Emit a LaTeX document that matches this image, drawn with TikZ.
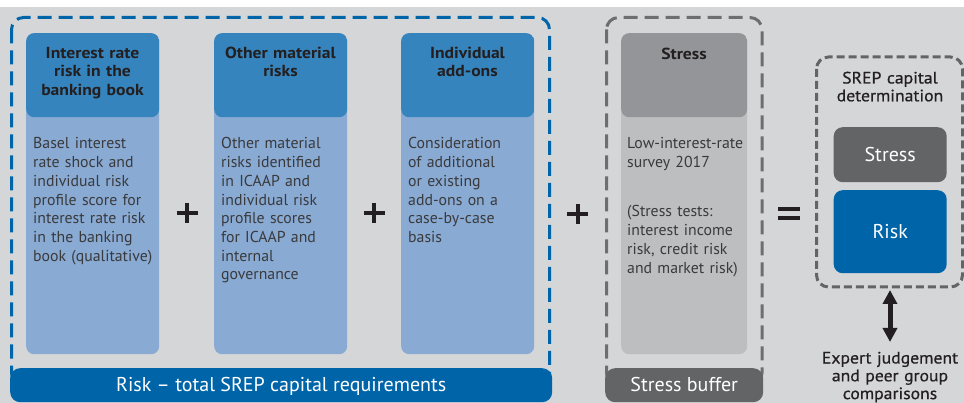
\documentclass[tikz,border=0pt]{standalone}
\usepackage{fontspec}
\setmainfont{PT Sans}
\newfontfamily\headfont{PT Sans}[FakeStretch=1.1]
\newfontfamily\notefont{PT Sans}[FakeStretch=1.07, FakeBold=0.6]
\usetikzlibrary{arrows.meta}

\definecolor{pagebg}{HTML}{D5D6D8}
\definecolor{hdrblue}{HTML}{3584BD}
\definecolor{bodyblue}{HTML}{89AAD3}
\definecolor{dkblue}{HTML}{0065A8}
\definecolor{stresshdr}{HTML}{939598}
\definecolor{stressbody}{HTML}{BDBEC0}
\definecolor{dkgray}{HTML}{636466}
\definecolor{dashgray}{HTML}{6D6E71}
\definecolor{txtdark}{HTML}{231F20}
\definecolor{txtbody}{HTML}{3A3A3C}

\tikzset{
  column/.style={rounded corners=8, inner sep=0, anchor=north west,
    minimum width=133, minimum height=321},
  headfill/.style={path picture={\fill[#1] (path picture bounding box.north west)
    rectangle ([yshift=-84pt]path picture bounding box.north east);}},
  headtext/.style={font=\headfont\bfseries\fontsize{16}{18.7}\selectfont, text=txtdark,
    align=center, text width=130, inner sep=0, anchor=base},
  bodytext/.style={font=\fontsize{15.8}{18.7}\selectfont, text=txtbody,
    align=left, text width=135, inner sep=0, anchor=base west},
  groupbox/.style={line width=3, rounded corners=12, dash pattern=on 14 off 7},
  bar/.style={rounded corners=10, inner sep=0, anchor=north west,
    minimum height=34, text=white, font=\fontsize{20}{22}\selectfont,
    text height=13.5, text depth=0},
  resbox/.style={rounded corners=9, inner sep=0, anchor=north west,
    minimum width=113, text=white, font=\fontsize{20}{22}\selectfont,
    text height=13.5, text depth=0},
  opsign/.style={line width=4, txtdark},
  note/.style={font=\notefont\fontsize{16.5}{17.8}\selectfont, text=txtdark, align=center,
    inner sep=0, anchor=base, text width=150},
}

\begin{document}
\begin{tikzpicture}[x=1pt, y=-1pt]
  \useasboundingbox (0,0) rectangle (964,403);
  \fill[white] (0,0) rectangle (964,403);
  \fill[pagebg] (0,7) rectangle (964,403);

  % grouping frames
  \draw[groupbox, dkblue] (11.5,17.5) rectangle (549.5,385);
  \draw[groupbox, dashgray] (606.5,17.5) rectangle (762,385);
  \draw[groupbox, dkgray, dash pattern=on 8 off 4] (816.5,57) rectangle (962.5,287);

  % risk and stress columns
  \node[column, fill=bodyblue, headfill=hdrblue] (c1) at (26,33) {};
  \node[column, fill=bodyblue, headfill=hdrblue] (c2) at (214,33) {};
  \node[column, fill=bodyblue, headfill=hdrblue] (c3) at (401,33) {};
  \node[column, fill=stressbody, headfill=stresshdr, minimum width=126] (c4) at (621,33) {};

  \node[headtext] (h1) at (92.5,58.3) {Interest rate\\risk in the\\banking book};
  \node[headtext] (h2) at (280.5,58.3) {Other material\\risks};
  \node[headtext] (h3) at (467.5,58.3) {Individual\\add-ons};
  \node[headtext] (h4) at (684,59.3) {Stress};

  \node[bodytext] (b1) at (33,149) {Basel interest\\rate shock and\\individual risk\\profile score for\\interest rate risk\\in the banking\\book (qualitative)};
  \node[bodytext] (b2) at (221,149) {Other material\\risks identified\\in ICAAP and\\individual risk\\profile scores\\for ICAAP and\\internal\\governance};
  \node[bodytext] (b3) at (408,149) {Consideration\\of additional\\or existing\\add-ons on a\\case-by-case\\basis};
  \node[bodytext] (b4a) at (627,149) {Low-interest-rate\\survey 2017};
  \node[bodytext] (b4b) at (627,217) {(Stress tests:\\interest income\\risk, credit risk\\and market risk)};

  % bottom bars
  \node[bar, fill=dkblue, minimum width=542] (riskbar) at (10,368) {Risk – total SREP capital requirements};
  \node[bar, fill=dkgray, minimum width=158] (stressbar) at (605,368) {Stress buffer};

  % operators
  \coordinate (p1) at (187,213);
  \coordinate (p2) at (374,213);
  \coordinate (p3) at (577.5,214);
  \foreach \p in {p1,p2,p3} {
    \draw[opsign] ([xshift=-10.5pt]\p) -- ([xshift=10.5pt]\p);
    \draw[opsign] ([yshift=10pt]\p) -- ([yshift=-10pt]\p);
  }
  \coordinate (eq) at (789,213.5);
  \draw[line width=4.5, txtdark] ([xshift=-11pt,yshift=4.5pt]eq) -- ([xshift=11pt,yshift=4.5pt]eq);
  \draw[line width=4.5, txtdark] ([xshift=-11pt,yshift=-4.5pt]eq) -- ([xshift=11pt,yshift=-4.5pt]eq);

  % SREP capital determination
  \node[note] (srep) at (890,83.5) {SREP capital\\determination};
  \node[resbox, fill=dkgray, minimum height=55] (stressbox) at (833.5,127) {Stress};
  \node[resbox, fill=dkblue, minimum height=83] (riskbox) at (833.5,190) {Risk};
  \coordinate (srepbottom) at (890,290);

  \node[note] (expert) at (890,363.5) {Expert judgement\\and peer group\\comparisons};
  \coordinate (experttop) at (890,342);
  \draw[line width=5, txtdark, {Triangle[width=14pt,length=14pt]}-{Triangle[width=14pt,length=14pt]}]
    (srepbottom) -- (experttop);
\end{tikzpicture}
\end{document}
